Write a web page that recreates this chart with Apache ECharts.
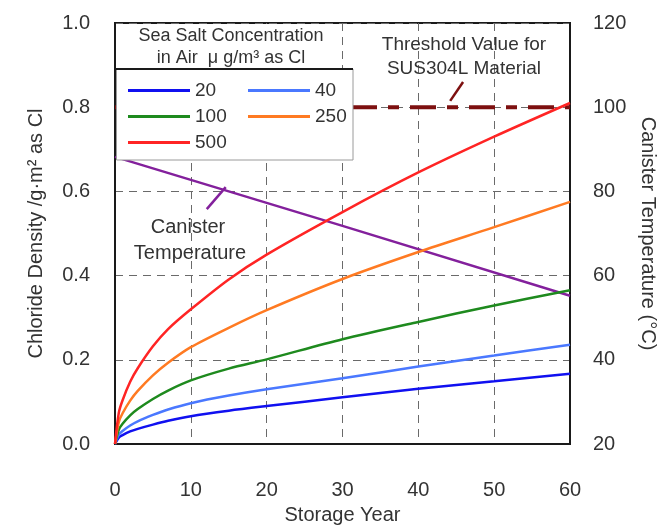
<!DOCTYPE html>
<html>
<head>
<meta charset="utf-8">
<script src="https://cdn.jsdelivr.net/npm/echarts@6/dist/echarts.min.js"></script>
<style>html,body{margin:0;padding:0;background:#fff;}#c{width:671px;height:530px;}</style>
</head>
<body>
<div id="c"></div>
<script>
// ---- data ----
const years = [0, 0.5, 1, 2, 3, 5, 7, 10, 15, 20, 30, 40, 50, 60];
const seriesNames = ['20', '40', '100', '250', '500'];
const salt20  = [0, 0.015, 0.021, 0.030, 0.036, 0.046, 0.055, 0.066, 0.079, 0.090, 0.111, 0.131, 0.149, 0.167];
const salt40  = [0, 0.022, 0.031, 0.044, 0.054, 0.069, 0.082, 0.097, 0.115, 0.130, 0.156, 0.184, 0.210, 0.236];
const salt100 = [0, 0.034, 0.048, 0.068, 0.083, 0.107, 0.127, 0.151, 0.179, 0.201, 0.249, 0.290, 0.329, 0.365];
const salt250 = [0, 0.052, 0.073, 0.103, 0.126, 0.163, 0.193, 0.230, 0.276, 0.318, 0.392, 0.456, 0.515, 0.575];
const salt500 = [0, 0.074, 0.104, 0.148, 0.180, 0.232, 0.273, 0.320, 0.391, 0.450, 0.551, 0.645, 0.730, 0.810];
const tempYears = [0, 30, 60];
const canisterTemp = [88.2, 71.8, 55.2];
const thresholdYears = [0, 60];
const thresholdValue = [0.8, 0.8];
const xTicks = [0, 10, 20, 30, 40, 50, 60];
const leftTicks = [0, 0.2, 0.4, 0.6, 0.8, 1.0];
const rightTicks = [20, 40, 60, 80, 100, 120];

const colors = ['#1010f0', '#4a78ff', '#1e8a1e', '#ff7a22', '#ff2424'];
const saltData = [salt20, salt40, salt100, salt250, salt500];
const FONT = "'Liberation Sans', Arial, sans-serif";
const TXT = '#333';

const chart = echarts.init(document.getElementById('c'), null, {renderer: 'canvas'});
const pair = (xs, ys) => xs.map((x, i) => [x, ys[i]]);

const series = [];
series.push({
  name: 'threshold', type: 'line', yAxisIndex: 0, data: pair(thresholdYears, thresholdValue),
  showSymbol: false, silent: true, z: 2,
  lineStyle: {color: '#7d1010', width: 4, type: [26, 11, 11, 11]},
  markLine: {
    silent: true, symbol: ['none', 'arrow'], symbolSize: [0, 11],
    label: {show: false},
    lineStyle: {color: '#7d1010', width: 2.5, type: 'solid'},
    data: [[{coord: [45.9, 0.86]}, {coord: [44.2, 0.815]}]]
  }
});
series.push({
  name: 'Canister Temperature', type: 'line', yAxisIndex: 1, data: pair(tempYears, canisterTemp),
  showSymbol: false, silent: true, z: 3,
  lineStyle: {color: '#83209c', width: 2.5},
  markLine: {
    silent: true, symbol: ['none', 'arrow'], symbolSize: [0, 11],
    label: {show: false},
    lineStyle: {color: '#83209c', width: 2.5, type: 'solid'},
    data: [[{coord: [12.1, 75.8]}, {coord: [14.6, 81.0]}]]
  }
});
seriesNames.forEach((n, i) => {
  series.push({
    name: n, type: 'line', yAxisIndex: 0, data: pair(years, saltData[i]),
    showSymbol: false, smooth: 0.3, z: 4,
    color: colors[i],
    lineStyle: {color: colors[i], width: 2.5}
  });
});

const legendPos = [[128, 81], [248, 81], [128, 107], [248, 107], [128, 133]];
const legends = seriesNames.map((n, i) => ({
  data: [n], left: legendPos[i][0], top: legendPos[i][1], padding: 0,
  icon: 'rect', itemWidth: 62, itemHeight: 3, z: 120, selectedMode: false,
  textStyle: {fontFamily: FONT, fontSize: 19, color: TXT}
}));

const dash = {type: [8, 6], color: '#6a6a6a', width: 1};

chart.setOption({
  animation: false,
  backgroundColor: '#fff',
  legend: legends,
  grid: {left: 115, right: 101, top: 23, bottom: 84, show: true, borderColor: '#1a1a1a', borderWidth: 2, backgroundColor: 'transparent'},
  xAxis: {
    type: 'value', min: xTicks[0], max: xTicks[xTicks.length - 1], interval: 10,
    name: 'Storage Year', nameLocation: 'middle', nameGap: 61,
    nameTextStyle: {fontFamily: FONT, fontSize: 20, color: TXT},
    axisLine: {show: true, lineStyle: {color: '#1a1a1a', width: 2}},
    axisTick: {show: false},
    axisLabel: {margin: 36, fontFamily: FONT, fontSize: 20, color: TXT},
    splitLine: {show: true, lineStyle: dash}
  },
  yAxis: [{
    type: 'value', min: leftTicks[0], max: leftTicks[leftTicks.length - 1], interval: 0.2,
    name: 'Chloride Density /g·m² as Cl', nameLocation: 'middle', nameGap: 69,
    nameTextStyle: {fontFamily: FONT, fontSize: 20, color: TXT},
    axisLine: {show: true, lineStyle: {color: '#1a1a1a', width: 2}},
    axisTick: {show: false},
    axisLabel: {margin: 25, fontFamily: FONT, fontSize: 20, color: TXT, padding: [0, 0, 9, 0],
      formatter: v => v.toFixed(1)},
    splitLine: {show: true, lineStyle: dash}
  }, {
    type: 'value', position: 'right', min: rightTicks[0], max: rightTicks[rightTicks.length - 1], interval: 20,
    name: 'Canister Temperature (°C)', nameLocation: 'middle', nameGap: 63, nameRotate: -90,
    nameTextStyle: {fontFamily: FONT, fontSize: 20, color: TXT},
    axisLine: {show: true, lineStyle: {color: '#1a1a1a', width: 2}},
    axisTick: {show: false},
    axisLabel: {margin: 23, fontFamily: FONT, fontSize: 20, color: TXT, padding: [0, 0, 9, 0]},
    splitLine: {show: false}
  }],
  graphic: [
    {type: 'rect', z: 100, silent: true, shape: {x: 116, y: 24, width: 226, height: 45}, style: {fill: '#fff'}},
    {type: 'rect', z: 100, silent: true, shape: {x: 116.5, y: 69, width: 236.5, height: 91}, style: {fill: '#fff', stroke: '#9a9a9a', lineWidth: 1}},
    {type: 'line', z: 101, silent: true, shape: {x1: 115, y1: 69, x2: 353, y2: 69}, style: {stroke: '#1a1a1a', lineWidth: 2}},
    {type: 'text', z: 101, silent: true, x: 231, y: 36, style: {text: 'Sea Salt Concentration', fontFamily: FONT, fontSize: 18, fill: TXT, align: 'center', verticalAlign: 'middle'}},
    {type: 'text', z: 101, silent: true, x: 231, y: 58, style: {text: 'in Air  μ g/m³ as Cl', fontFamily: FONT, fontSize: 18, fill: TXT, align: 'center', verticalAlign: 'middle'}},
    {type: 'text', z: 101, silent: true, x: 464, y: 45, style: {text: 'Threshold Value for', fontFamily: FONT, fontSize: 19, fill: TXT, align: 'center', verticalAlign: 'middle'}},
    {type: 'text', z: 101, silent: true, x: 464, y: 69, style: {text: 'SUS304L Material', fontFamily: FONT, fontSize: 19, fill: TXT, align: 'center', verticalAlign: 'middle'}},
    {type: 'text', z: 101, silent: true, x: 188, y: 227, style: {text: 'Canister', fontFamily: FONT, fontSize: 20, fill: TXT, align: 'center', verticalAlign: 'middle'}},
    {type: 'text', z: 101, silent: true, x: 190, y: 253, style: {text: 'Temperature', fontFamily: FONT, fontSize: 20, fill: TXT, align: 'center', verticalAlign: 'middle'}}
  ],
  series: series
});
</script>
</body>
</html>
